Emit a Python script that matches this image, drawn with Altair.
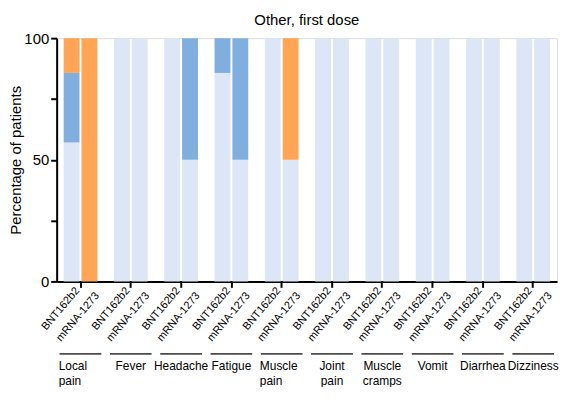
import altair as alt
import pandas as pd

groups = ["Local pain", "Fever", "Headache", "Fatigue", "Muscle pain",
          "Joint pain", "Muscle cramps", "Vomit", "Diarrhea", "Dizziness"]
group_lines = [["Local", "pain"], ["Fever"], ["Headache"], ["Fatigue"], ["Muscle", "pain"],
               ["Joint", "pain"], ["Muscle", "cramps"], ["Vomit"], ["Diarrhea"], ["Dizziness"]]
left_aligned = ["Local pain", "Muscle pain"]
vaccines = ["BNT162b2", "mRNA-1273"]
levels = ["None", "Mild", "Moderate"]
level_colors = ["#dde6f7", "#80afdf", "#ffa555"]

# percentage of patients per group
bnt_none = [57.1, 100, 100, 85.7, 100, 100, 100, 100, 100, 100]
bnt_mild = [28.6, 0, 0, 14.3, 0, 0, 0, 0, 0, 0]
bnt_mod = [14.3, 0, 0, 0, 0, 0, 0, 0, 0, 0]
mrna_none = [0, 100, 50, 50, 50, 100, 100, 100, 100, 100]
mrna_mild = [0, 0, 50, 50, 0, 0, 0, 0, 0, 0]
mrna_mod = [100, 0, 0, 0, 50, 0, 0, 0, 0, 0]

rows = []
for i, g in enumerate(groups):
    for v, vals in zip(vaccines, [(bnt_none[i], bnt_mild[i], bnt_mod[i]),
                                   (mrna_none[i], mrna_mild[i], mrna_mod[i])]):
        for k, (lev, val) in enumerate(zip(levels, vals)):
            rows.append({"group": g, "vaccine": v, "level": lev, "rank": k, "value": val})
df = pd.DataFrame(rows)

lab_df = pd.DataFrame([{"group": g, "vaccine": v} for g in groups for v in vaccines])
grp_df = pd.DataFrame([{"group": g, "label": lines, "left": g in left_aligned}
                       for g, lines in zip(groups, group_lines)])
title_df = pd.DataFrame({"t": ["Other, first dose"]})

FONT = "Liberation Sans"

xscale = alt.Scale(domain=groups, paddingInner=0.33, paddingOuter=0.139)
x_enc = alt.X("group:N", scale=xscale,
              axis=alt.Axis(labels=False, title=None, ticks=True, tickSize=6, tickWidth=2,
                            tickColor="black", domainColor="black", domainWidth=2, grid=False))
xoff = alt.XOffset("vaccine:N", scale=alt.Scale(domain=vaccines, paddingInner=0.111, paddingOuter=0))

bars = alt.Chart(df).mark_bar().encode(
    x=x_enc,
    xOffset=xoff,
    y=alt.Y("value:Q", stack="zero",
            scale=alt.Scale(domain=[0, 100], nice=False),
            axis=alt.Axis(values=[0, 25, 50, 75, 100],
                          labelExpr="datum.value % 50 == 0 ? datum.label : ''",
                          title="Percentage of patients", titleFontSize=15, titleFontWeight="normal",
                          titleFont=FONT, titleColor="black", titleX=-33, titleBaseline="bottom",
                          labelFont=FONT, labelFontSize=15, labelColor="black", labelPadding=2,
                          tickSize=6, tickWidth=2, tickColor="black",
                          domainColor="black", domainWidth=2, grid=False)),
    color=alt.Color("level:N", scale=alt.Scale(domain=levels, range=level_colors), legend=None),
    order=alt.Order("rank:Q"),
)

def vac_labels(v, dy, yv):
    return alt.Chart(lab_df).transform_filter(alt.datum.vaccine == v).mark_text(
        angle=310, align="right", baseline="middle", font=FONT, fontSize=11, color="black", dy=dy
    ).encode(x=alt.X("group:N", scale=xscale), xOffset=xoff, y=alt.value(yv), text="vaccine:N")

lab_bnt = vac_labels("BNT162b2", 7.8, 247.6)
lab_mrna = vac_labels("mRNA-1273", 10.4, 251)

lines = alt.Chart(grp_df).mark_tick(orient="horizontal", thickness=2, size=42, color="black").encode(
    x=alt.X("group:N", scale=xscale), y=alt.value(318))

grp_center = alt.Chart(grp_df).transform_filter(~alt.datum.left).mark_text(
    align="center", baseline="top", font=FONT, fontSize=12, color="black", lineHeight=15
).encode(x=alt.X("group:N", scale=xscale), y=alt.value(325), text="label")

grp_left = alt.Chart(grp_df).transform_filter(alt.datum.left).mark_text(
    align="left", baseline="top", font=FONT, fontSize=12, color="black", lineHeight=15, dx=-22
).encode(x=alt.X("group:N", scale=xscale), y=alt.value(325), text="label")

title = alt.Chart(title_df).mark_text(
    align="center", baseline="alphabetic", font=FONT, fontSize=15, color="black"
).encode(x=alt.value(252), y=alt.value(-13), text="t:N")

chart = alt.layer(bars, lab_bnt, lab_mrna, lines, grp_center, grp_left, title).properties(
    width=504, height=245,
    autosize=alt.AutoSizeParams(type="none"),
    padding={"left": 49, "top": 29, "right": 6, "bottom": 105},
).configure_view(stroke=None).configure(background="white")

chart.save("out.html", embed_options={"renderer": "svg", "actions": False})
